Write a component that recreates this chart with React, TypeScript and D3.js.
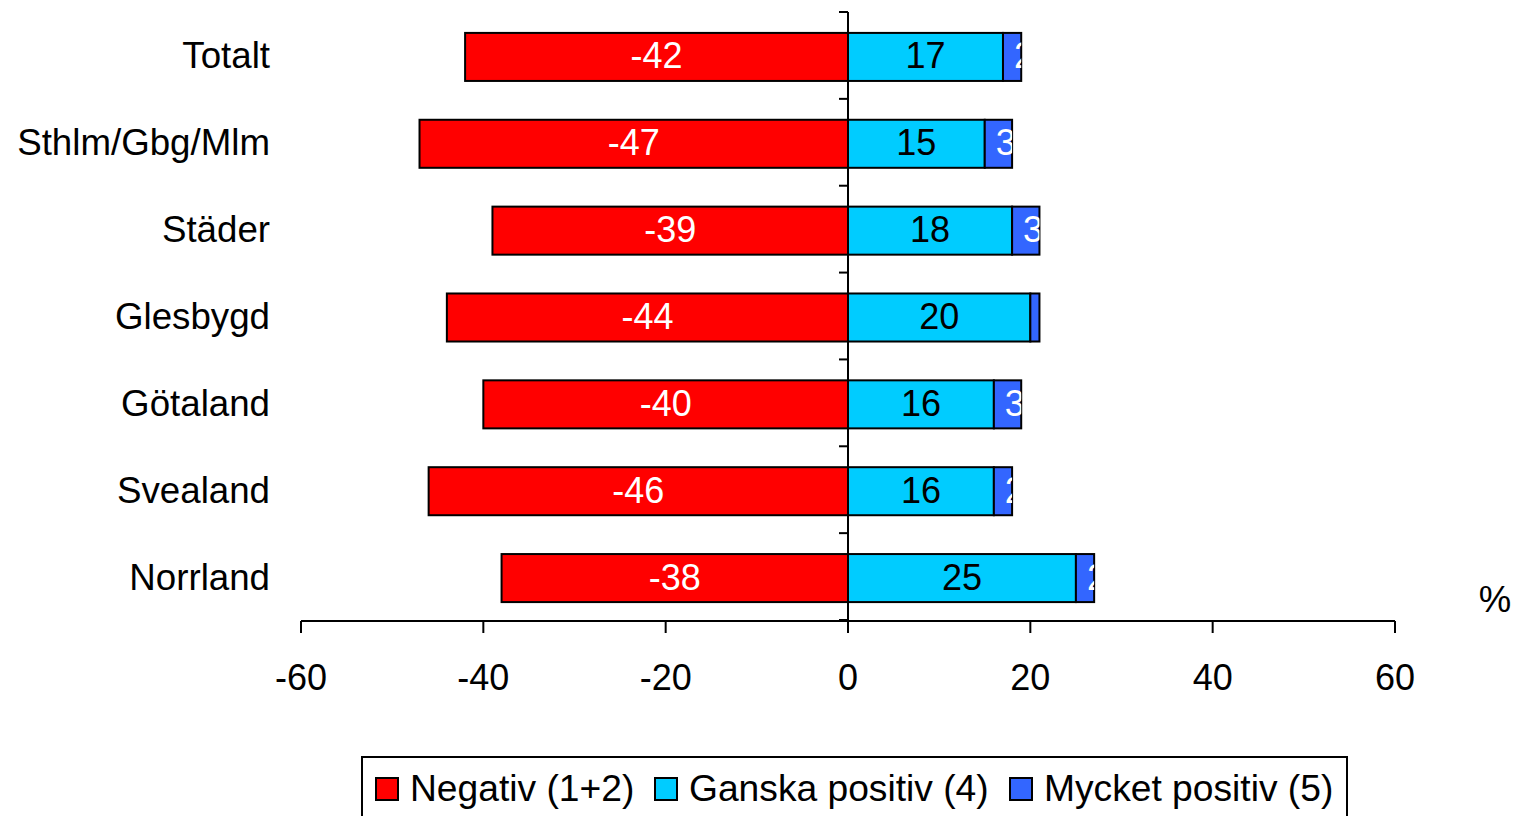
import React from "react";
import * as d3 from "d3";

const categories = ["Totalt", "Sthlm/Gbg/Mlm", "Städer", "Glesbygd", "Götaland", "Svealand", "Norrland"];
const negativ = [-42, -47, -39, -44, -40, -46, -38];
const ganska = [17, 15, 18, 20, 16, 16, 25];
const mycket = [2, 3, 3, 1, 3, 2, 2];
const xTicks = [-60, -40, -20, 0, 20, 40, 60];
const seriesNames = ["Negativ (1+2)", "Ganska positiv (4)", "Mycket positiv (5)"];
const colors = ["#FF0000", "#00CCFF", "#3366FF"];
const labelColors = ["#FFFFFF", "#000000", "#FFFFFF"];

const W = 1517;
const H = 816;
const FONT = "'Liberation Sans', Arial, sans-serif";

export default function App() {
  const x = d3.scaleLinear().domain([-60, 60]).range([301, 1395]);
  const y = d3.scaleBand<string>().domain(categories).range([12, 620]).paddingInner(0.447).paddingOuter(0.2235);
  const step = y.step();
  const bw = y.bandwidth();
  const x0 = x(0);
  const yOff = 1.5;

  const segs: { key: string; cat: string; s: number; a: number; b: number; v: number }[] = [];
  categories.forEach((c, i) => {
    segs.push({ key: `n${i}`, cat: c, s: 0, a: negativ[i], b: 0, v: negativ[i] });
    segs.push({ key: `g${i}`, cat: c, s: 1, a: 0, b: ganska[i], v: ganska[i] });
    segs.push({ key: `m${i}`, cat: c, s: 2, a: ganska[i], b: ganska[i] + mycket[i], v: mycket[i] });
  });

  const legendX = [376, 655, 1010];
  const by = (c: string) => y(c)! + yOff;

  return (
    <svg width={W} height={H} style={{ position: "absolute", left: 0, top: 0, background: "#fff" }} fontFamily={FONT}>
      <defs>
        {segs.map((d) => (
          <clipPath id={`clip-${d.key}`} key={d.key}>
            <rect x={x(Math.min(d.a, d.b))} y={by(d.cat)} width={Math.abs(x(d.b) - x(d.a))} height={bw} />
          </clipPath>
        ))}
      </defs>
      {segs.map((d) => (
        <rect
          key={d.key}
          x={x(Math.min(d.a, d.b))}
          y={by(d.cat)}
          width={Math.abs(x(d.b) - x(d.a))}
          height={bw}
          fill={colors[d.s]}
          stroke="#000"
          strokeWidth={2}
        />
      ))}
      {segs.filter((d) => Math.abs(d.v) >= 2).map((d) => (
        <text
          key={`t-${d.key}`}
          x={d.s === 2 ? x(d.a) + 11 : (x(d.a) + x(d.b)) / 2}
          y={by(d.cat) + bw / 2 + 11.5}
          textAnchor={d.s === 2 ? "start" : "middle"}
          fontSize={36}
          fill={labelColors[d.s]}
          clipPath={`url(#clip-${d.key})`}
        >
          {d.v}
        </text>
      ))}
      {/* y axis */}
      <line x1={x0} x2={x0} y1={12} y2={633} stroke="#000" strokeWidth={2} />
      {d3.range(categories.length + 1).map((i) => (
        <line key={`yt${i}`} x1={x0 - 9} x2={x0} y1={12 + i * step} y2={12 + i * step} stroke="#000" strokeWidth={2} />
      ))}
      {categories.map((c) => (
        <text key={`cl-${c}`} x={270} y={y(c)! + bw / 2 + 13} textAnchor="end" fontSize={36.7} fill="#000">
          {c}
        </text>
      ))}
      {/* x axis */}
      <line x1={x(-60)} x2={x(60)} y1={621} y2={621} stroke="#000" strokeWidth={2} />
      {xTicks.map((t) => (
        <g key={`xt${t}`}>
          <line x1={x(t)} x2={x(t)} y1={621} y2={633} stroke="#000" strokeWidth={2} />
          <text x={x(t)} y={690} textAnchor="middle" fontSize={36} fill="#000">
            {t}
          </text>
        </g>
      ))}
      <text x={1495} y={612} textAnchor="middle" fontSize={36.5} fill="#000">%</text>
      {/* legend */}
      <rect x={362} y={757} width={985} height={80} fill="#fff" stroke="#000" strokeWidth={2} />
      {seriesNames.map((n, i) => (
        <g key={`lg${i}`}>
          <rect x={legendX[i]} y={778} width={22} height={22} fill={colors[i]} stroke="#000" strokeWidth={2} />
          <text x={legendX[i] + 34} y={801} fontSize={37.2} fill="#000">
            {n}
          </text>
        </g>
      ))}
    </svg>
  );
}
